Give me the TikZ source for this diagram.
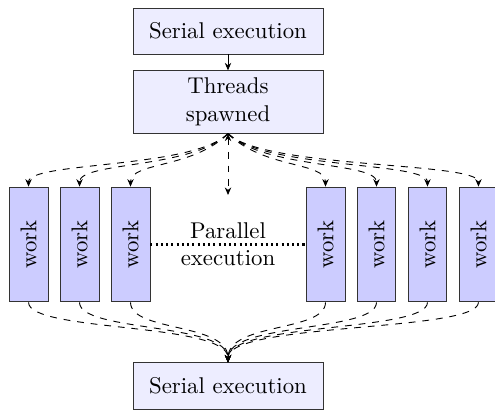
\documentclass[tikz,border=0pt]{standalone}
\usetikzlibrary{arrows.meta}

\tikzset{
	stage/.style={draw=black!80, fill=blue!7, minimum width=2.93cm, minimum height=0.71cm, inner sep=0pt},
	worker/.style={draw=black!80, fill=blue!20, minimum width=0.6cm, minimum height=1.77cm, inner sep=0pt},
}

\begin{document}
\begin{tikzpicture}[>={Stealth[length=3.3pt,width=2.8pt]}]
	\useasboundingbox (-3.515,-2.613) rectangle (4.116,3.769);

	% serial part
	\node[stage] (serial) at (0,3.291) {Serial execution};
	\node[stage, minimum height=0.96cm, align=center] (threads) at (0,2.197) {Threads\\spawned};
	\draw [->] (serial) -- (threads);

	% the threads doing the work
	\foreach \n/\x in {1/-3.075, 2/-2.289, 3/-1.503, 4/1.503, 5/2.289, 6/3.075, 7/3.861}
		\node[worker] (w\n) at (\x,0) {\rotatebox{90}{work}};

	% parallel region
	\draw[line width=0.9pt, dash pattern=on 0.9pt off 1.4pt] (w3) -- (w4);
	\node[align=center] (par) at (0,0) {Parallel\\execution};

	% serial again
	\node[stage] (join) at (0,-2.181) {Serial execution};

	% fork
	\coordinate (fork) at (0,0.763);
	\draw[dashed] [<->] (threads) -- (fork);
	\foreach \n in {1,2,3}
		\draw[dashed] [->] (threads.south) .. controls +(225:0.77) and +(90:0.385) .. (w\n.north);
	\foreach \n in {4,...,7}
		\draw[dashed] [->] (threads.south) .. controls +(-45:0.77) and +(90:0.385) .. (w\n.north);

	% join
	\foreach \n in {1,...,7}
		\draw[dashed] [->] (w\n.south) .. controls +(-90:0.46) and +(90:0.62) .. (join.north);

\end{tikzpicture}
\end{document}
